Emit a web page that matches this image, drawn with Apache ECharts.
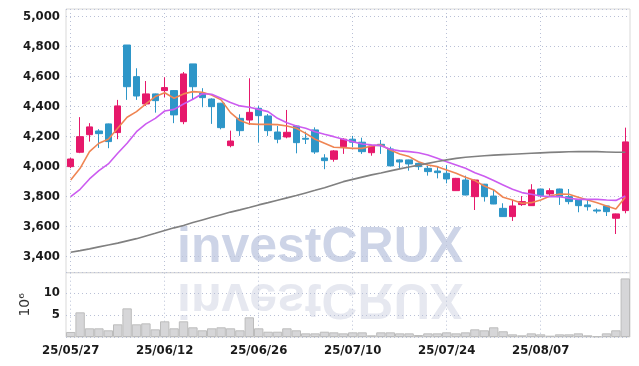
<!DOCTYPE html>
<html>
<head>
<meta charset="utf-8">
<script src="https://cdn.jsdelivr.net/npm/echarts@6/dist/echarts.min.js"></script>
<style>html,body{margin:0;padding:0;background:#fff;}#c{width:639px;height:366px;}</style>
</head>
<body>
<div id="c"></div>
<script>
const dates = ['25/05/27','25/05/28','25/05/29','25/05/30','25/06/02','25/06/04','25/06/05','25/06/09','25/06/10','25/06/11',
  '25/06/12','25/06/13','25/06/16','25/06/17','25/06/18','25/06/19','25/06/20','25/06/23','25/06/24','25/06/25',
  '25/06/26','25/06/27','25/06/30','25/07/01','25/07/02','25/07/03','25/07/04','25/07/07','25/07/08','25/07/09',
  '25/07/10','25/07/11','25/07/14','25/07/15','25/07/16','25/07/17','25/07/18','25/07/21','25/07/22','25/07/23',
  '25/07/24','25/07/25','25/07/28','25/07/29','25/07/30','25/07/31','25/08/01','25/08/04','25/08/05','25/08/06',
  '25/08/07','25/08/08','25/08/11','25/08/12','25/08/13','25/08/14','25/08/18','25/08/19','25/08/20','25/08/21'];
const opens  = [4000,4096,4213,4238,4285,4227,4811,4600,4418,4485,4507,4507,4300,4685,4489,4451,4423,4140,4322,4311,
  4389,4338,4231,4198,4271,4189,4245,4058,4049,4133,4183,4163,4093,4149,4118,4045,4045,4022,3989,3971,
  3956,3840,3911,3800,3883,3804,3722,3667,3747,3740,3851,3818,3851,3800,3778,3745,3711,3738,3656,3707];
const closes = [4051,4200,4265,4220,4167,4405,4533,4471,4485,4440,4527,4345,4618,4533,4460,4400,4260,4171,4240,4362,
  4340,4240,4183,4229,4160,4183,4098,4040,4105,4183,4163,4100,4138,4140,4005,4031,4018,4000,3967,3960,
  3918,3922,3811,3911,3800,3751,3667,3738,3767,3845,3807,3840,3800,3767,3740,3733,3704,3700,3685,4165];
const lows   = [3990,4090,4167,4125,4123,4183,4445,4445,4405,4360,4463,4290,4283,4445,4396,4285,4249,4129,4205,4278,
  4160,4205,4156,4189,4089,4151,4085,3983,4033,4085,4129,4085,4073,4085,4003,3985,3973,3978,3940,3922,
  3889,3838,3809,3711,3767,3750,3665,3638,3738,3738,3794,3804,3745,3749,3696,3707,3689,3671,3551,3689];
const highs  = [4058,4330,4290,4250,4287,4445,4811,4656,4571,4487,4596,4510,4631,4685,4523,4455,4425,4240,4349,4589,
  4405,4351,4271,4378,4275,4233,4262,4083,4110,4189,4205,4193,4145,4178,4133,4049,4047,4027,4005,4000,
  4011,3925,3940,3913,3885,3845,3756,3778,3804,3883,3853,3856,3853,3851,3780,3778,3722,3740,3687,4260];
const ma5  = [3911,3989,4100,4156,4183,4256,4329,4367,4418,4467,4493,4456,4485,4500,4496,4478,4445,4360,4307,4285,
  4282,4282,4280,4271,4256,4222,4183,4156,4129,4127,4122,4122,4138,4145,4111,4085,4067,4033,4011,4000,
  3978,3956,3929,3907,3871,3845,3796,3778,3756,3760,3778,3804,3818,3816,3796,3778,3760,3738,3718,3796];
const ma20 = [3800,3849,3918,3973,4018,4089,4156,4233,4285,4322,4371,4382,4418,4449,4486,4483,4456,4427,4405,4396,
  4382,4367,4322,4293,4271,4256,4233,4216,4200,4183,4167,4151,4145,4140,4116,4105,4100,4093,4078,4056,
  4033,4011,3989,3960,3936,3907,3878,3849,3827,3816,3804,3800,3800,3789,3782,3782,3782,3778,3775,3804];
const ma60 = [3429,3440,3452,3465,3478,3490,3505,3520,3538,3556,3575,3592,3608,3627,3645,3663,3680,3697,3712,3728,
  3745,3760,3776,3792,3808,3825,3842,3860,3880,3900,3915,3930,3945,3958,3972,3985,3998,4010,4022,4034,
  4045,4055,4063,4068,4073,4077,4080,4083,4086,4089,4092,4095,4097,4099,4100,4100,4100,4098,4096,4096];
const volumes = [1.14,5.6,1.97,1.97,1.52,2.88,6.5,2.88,3.1,1.74,3.56,1.97,3.56,2.2,1.52,1.97,2.2,1.97,1.52,4.47,
  1.97,1.2,1.2,1.97,1.52,0.83,0.83,1.2,1.06,0.83,1.06,1.06,0.38,1.06,1.06,0.83,0.83,0.45,0.83,0.83,
  1.06,0.83,1.06,1.74,1.52,2.2,1.3,0.6,0.38,0.83,0.6,0.3,0.6,0.6,0.83,0.38,0.15,0.83,1.52,13.3];
const priceTicks = [3400,3600,3800,4000,4200,4400,4600,4800,5000];
const volumeTicks = [5,10];

const UP = '#e6186b', DOWN = '#2e96c8';
const candles = opens.map((o,i)=>[o, closes[i], lows[i], highs[i]]);
const labelFont = '"DejaVu Sans Condensed", "DejaVu Sans", sans-serif';
const labelStyle = {color:'#1a1a1a', fontSize:13, fontWeight:'bold', fontFamily:labelFont};
const splitStyle = {type:[1,3], color:'#b9c0d6', width:1};

const chart = echarts.init(document.getElementById('c'), null, {renderer:'canvas'});
chart.setOption({
  animation:false,
  backgroundColor:'#fff',
  graphic:[
    {type:'text', z:-10, x:177, y:273, scaleY:-1,
      style:{text:'investCRUX', font:'bold 50px "Liberation Sans"', fill:'#e6e8f0', textVerticalAlign:'bottom'}},
    {type:'text', z:-10, x:177, y:273,
      style:{text:'investCRUX', font:'bold 50px "Liberation Sans"', fill:'#cdd4e7', textVerticalAlign:'bottom'}}
  ],
  grid:[
    {left:66, right:9, top:9, height:263.7, show:true, borderColor:'#d9d9d9', borderWidth:1, backgroundColor:'transparent'},
    {left:66, right:9, top:272.7, bottom:29, show:true, borderColor:'#d9d9d9', borderWidth:1, backgroundColor:'transparent'}
  ],
  xAxis:[
    {type:'category', gridIndex:0, data:dates, boundaryGap:true,
      axisLine:{show:false}, axisTick:{show:false}, axisLabel:{show:false},
      splitLine:{show:true, interval:9, alignWithLabel:true, lineStyle:splitStyle}},
    {type:'category', gridIndex:1, data:dates, boundaryGap:true,
      axisLine:{show:false}, axisTick:{show:false},
      axisLabel:Object.assign({interval:9, margin:7}, labelStyle),
      splitLine:{show:true, interval:9, alignWithLabel:true, lineStyle:splitStyle}}
  ],
  yAxis:[
    {type:'value', gridIndex:0, min:3293, max:5051, splitNumber:8, scale:true,
      axisLine:{show:false}, axisTick:{show:false},
      axisLabel:Object.assign({margin:6, showMinLabel:false, showMaxLabel:false,
        formatter:v => priceTicks.includes(Math.round(v)) ? Math.round(v).toLocaleString('en-US') : ''}, labelStyle),
      splitLine:{show:true, lineStyle:splitStyle}},
    {type:'value', gridIndex:1, min:0, max:14.6, interval:5,
      name:'10\u2076', nameLocation:'middle', nameRotate:90, nameGap:12,
      nameTextStyle:{color:'#333', fontSize:14, fontFamily:'DejaVu Sans'},
      axisLine:{show:false}, axisTick:{show:false},
      axisLabel:Object.assign({margin:6, showMaxLabel:false,
        formatter:v => volumeTicks.includes(v) ? String(v) : ''}, labelStyle),
      splitLine:{show:true, lineStyle:splitStyle}}
  ],
  series:[
    {type:'candlestick', xAxisIndex:0, yAxisIndex:0, data:candles, barWidth:7, z:3,
      itemStyle:{color:UP, color0:DOWN, borderColor:UP, borderColor0:DOWN, borderWidth:1}},
    {type:'line', xAxisIndex:0, yAxisIndex:0, data:ma5, symbol:'none', z:4,
      lineStyle:{color:'#ef8553', width:1.6}},
    {type:'line', xAxisIndex:0, yAxisIndex:0, data:ma20, symbol:'none', z:4,
      lineStyle:{color:'#cc5cf0', width:1.6}},
    {type:'line', xAxisIndex:0, yAxisIndex:0, data:ma60, symbol:'none', z:4,
      lineStyle:{color:'#808080', width:1.6}},
    {type:'bar', xAxisIndex:1, yAxisIndex:1, data:volumes, barWidth:'100%', barCategoryGap:'0%', z:3,
      itemStyle:{color:'#d6d6d8', borderColor:'#bcbcbc', borderWidth:1}}
  ]
});
</script>
</body>
</html>
